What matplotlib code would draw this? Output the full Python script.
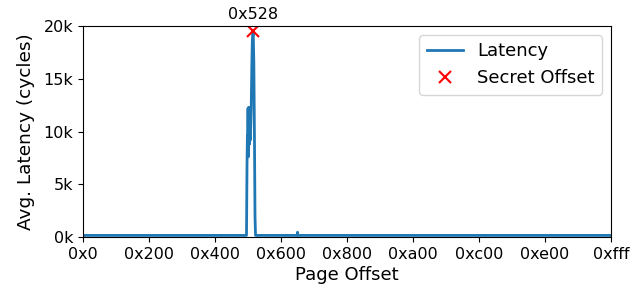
import matplotlib
matplotlib.use("Agg")
import matplotlib.pyplot as plt
from matplotlib.ticker import FuncFormatter

# offsets and average latency (sparse key points)
offsets = [0x000, 0x4f4, 0x4f8, 0x4fb, 0x4fd, 0x500, 0x502, 0x505, 0x507,
           0x50a, 0x50c, 0x50f, 0x512, 0x516, 0x519, 0x51d, 0x521, 0x525,
           0x528, 0x52d, 0x532, 0x536, 0x53a, 0x53e, 0x67c, 0x680, 0x684,
           0xfff]
latency = [150, 150, 6800, 9600, 8200, 12200, 7600, 12300, 9000,
           11800, 8800, 10500, 9200, 11000, 12500, 16000, 18500, 19200,
           19500, 16500, 9000, 2000, 150, 150, 150, 450, 150,
           150]

secret_offset = 0x528
secret_latency = 19500

xticks = [0x0, 0x200, 0x400, 0x600, 0x800, 0xa00, 0xc00, 0xe00, 0xfff]
xtick_labels = ["0x0", "0x200", "0x400", "0x600", "0x800", "0xa00",
                "0xc00", "0xe00", "0xfff"]
yticks = [0, 5000, 10000, 15000, 20000]

plt.rcParams.update({"font.size": 11.5})

fig = plt.figure(figsize=(6.4, 2.9), dpi=100)
ax = fig.add_axes([83 / 640, 1 - 237 / 290, (611 - 83) / 640, (237 - 26) / 290])

ax.plot(offsets, latency, color="#1f77b4", lw=2, label="Latency")
ax.plot([secret_offset], [secret_latency], "x", color="red", ms=8,
        mew=1.5, ls="none", label="Secret Offset")
ax.annotate(hex(secret_offset), xy=(secret_offset, secret_latency),
            xytext=(0, 7), textcoords="offset points", ha="center",
            va="bottom")

ax.set_xlim(0, 0xfff)
ax.set_ylim(0, 20000)
ax.set_xticks(xticks)
ax.set_xticklabels(xtick_labels)
ax.set_yticks(yticks)
ax.yaxis.set_major_formatter(FuncFormatter(lambda v, _: f"{int(v / 1000)}k"))
ax.set_xlabel("Page Offset", fontsize=13, labelpad=3)
ax.set_ylabel("Avg. Latency (cycles)", fontsize=13.3, labelpad=6)
ax.legend(loc="upper right", fontsize=13)

fig.savefig("out.png", dpi=100)
